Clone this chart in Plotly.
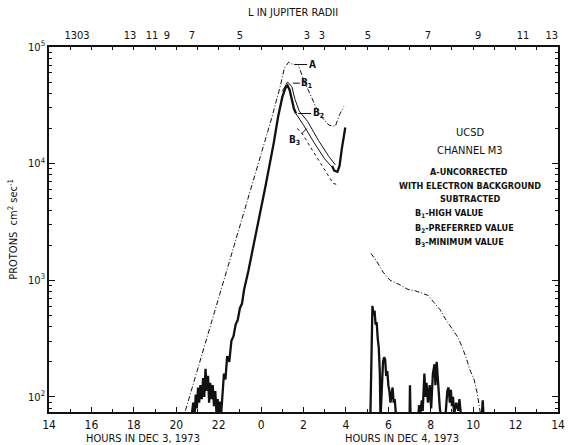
import plotly.graph_objects as go

# ---------------- data (hours since Dec 3 00:00, log10 flux) ----------------
# Curve A (uncorrected), dash-dot
a_left_h = [20.3, 20.9, 21.5, 22.1, 22.7, 23.3, 23.9, 24.5, 24.9, 25.1, 25.3, 25.5, 25.75, 26.0, 26.3, 26.6, 26.9, 27.2, 27.5, 27.7, 27.9]
a_left_log = [1.80, 2.17, 2.54, 2.91, 3.28, 3.65, 4.02, 4.39, 4.66, 4.82, 4.87, 4.85, 4.85, 4.72, 4.60, 4.48, 4.39, 4.33, 4.32, 4.42, 4.49]
a_right_h = [29.18, 29.46, 29.75, 30.08, 30.55, 30.93, 31.26, 31.59, 31.87, 32.15, 32.43, 32.72, 33.0, 33.28, 33.47, 33.66, 33.85, 34.04, 34.18, 34.27, 34.35]
a_right_log = [3.23, 3.16, 3.07, 3.0, 2.96, 2.92, 2.91, 2.89, 2.87, 2.81, 2.75, 2.66, 2.59, 2.51, 2.43, 2.34, 2.23, 2.15, 2.04, 1.93, 1.85]

# Thick main curve (left part incl. noise, up to the peak)
m_left_h = [20.7, 20.8, 20.85, 20.92, 20.97, 21.03, 21.08, 21.14, 21.2, 21.27, 21.32, 21.38, 21.44, 21.5, 21.55, 21.6, 21.66,
            21.72, 21.78, 21.84, 21.9, 21.95, 22.0, 22.06, 22.12, 22.18, 22.25, 22.32, 22.4, 22.5, 22.6, 22.7, 22.8, 22.9,
            23.0, 23.1, 23.2, 23.4, 23.6, 23.8, 24.0, 24.2, 24.4, 24.6, 24.8, 25.0, 25.15, 25.25, 25.35, 25.45, 25.55, 25.65]
m_left_log = [1.8, 1.95, 1.8, 2.02, 1.9, 2.08, 1.95, 2.1, 1.98, 2.16, 2.0, 2.24, 2.05, 2.18, 1.95, 2.12, 1.98,
              2.1, 1.92, 2.05, 1.85, 1.98, 1.8, 1.96, 1.86, 2.05, 2.2, 2.15, 2.35, 2.3, 2.48, 2.52, 2.62, 2.66,
              2.76, 2.8, 2.92, 3.08, 3.25, 3.45, 3.62, 3.8, 3.98, 4.18, 4.4, 4.57, 4.65, 4.67, 4.63, 4.55, 4.47, 4.43]
# Thick main curve: dip and recovery
m_dip_h = [27.35, 27.45, 27.6, 27.7, 27.8, 27.9, 27.97]
m_dip_log = [3.98, 3.94, 3.93, 3.98, 4.12, 4.25, 4.31]
# Thick main curve: right part (noise)
m_right_h = [29.15, 29.2, 29.25, 29.3, 29.35, 29.4, 29.45, 29.5, 29.55, 29.6, 29.63, 29.7, 29.75, 29.8, 29.85, 29.9, 29.95,
             30.0, 30.05, 30.1, 30.15, 30.2, 30.25, 30.3, 30.38, 31.0, 31.02, 31.05, 31.4, 31.45, 31.5, 31.58, 31.62,
             31.7, 31.75, 31.8, 31.87, 31.95, 32.02, 32.1, 32.18, 32.22, 32.28, 32.33, 32.38, 32.43, 32.5, 32.7, 32.78,
             32.84, 32.9, 32.95, 33.0, 33.05, 33.1, 33.2, 33.3, 33.35, 33.45, 33.55, 34.4, 34.45, 34.5]
m_right_log = [1.8, 2.55, 2.78, 2.7, 2.74, 2.62, 2.64, 2.5, 2.42, 2.2, 1.8, 2.1, 2.3, 2.34, 2.32, 2.18, 2.22,
               2.1, 2.05, 1.95, 2.02, 2.08, 1.95, 1.98, 1.8, 1.8, 2.1, 1.8, 1.8, 1.93, 1.85, 1.97, 1.88,
               2.2, 2.0, 2.12, 1.95, 2.1, 1.9, 2.2, 2.28, 2.1, 2.3, 2.15, 2.0, 1.9, 1.8, 1.85, 2.05,
               2.08, 1.95, 2.06, 1.92, 2.0, 1.85, 1.95, 1.88, 1.98, 1.8, 1.8, 1.8, 1.97, 1.8]
# B1 (high), B2 (preferred), B3 (minimum) in the decline after the peak
b1_h = [25.0, 25.25, 25.45, 25.6, 25.8, 26.2, 26.7, 27.2, 27.5]
b1_log = [4.62, 4.70, 4.66, 4.55, 4.45, 4.36, 4.20, 4.06, 3.99]
b2_h = [25.6, 26.0, 26.5, 27.0, 27.4]
b2_log = [4.44, 4.33, 4.18, 4.04, 3.96]
b3_h = [25.7, 25.9, 26.3, 26.8, 27.2, 27.4, 27.6]
b3_log = [4.30, 4.27, 4.15, 4.0, 3.88, 3.83, 3.82]

# axes
x_tick_vals = [14, 16, 18, 20, 22, 24, 26, 28, 30, 32, 34, 36, 38]
x_tick_text = ["14", "16", "18", "20", "22", "0", "2", "4", "6", "8", "10", "12", "14"]
x_minor_vals = [15, 17, 19, 21, 23, 25, 27, 29, 31, 33, 35, 37]
top_minor_vals = [15, 16, 17, 18, 19, 20, 21, 22, 23, 24, 25, 26, 27, 28, 29, 30, 31, 32, 33, 34, 35, 36, 37]
l_tick_vals = [15.32, 17.82, 18.86, 19.56, 20.74, 23.0, 26.16, 26.87, 29.04, 31.87, 34.23, 36.35, 37.71]
l_tick_text = ["1303", "13", "11", "9", "7", "5", "3", "3", "5", "7", "9", "11", "13"]
y_tick_vals = [100, 1000, 10000, 100000]
y_tick_text = ["10<sup>2</sup>", "10<sup>3</sup>", "10<sup>4</sup>", "10<sup>5</sup>"]
y_minor_vals = [m * d for d in (10, 100, 1000, 10000) for m in range(2, 10)]


def vals(logs):
    return [10 ** v for v in logs]


FONT = "Liberation Sans Narrow, DejaVu Sans Condensed, Arial Narrow, sans-serif"
BLACK = "#111111"

fig = go.Figure()
dashdot = "5px,2px,1px,2px"
fig.add_trace(go.Scatter(x=a_left_h, y=vals(a_left_log), mode="lines",
                         line=dict(color=BLACK, width=1, dash=dashdot)))
fig.add_trace(go.Scatter(x=a_right_h, y=vals(a_right_log), mode="lines",
                         line=dict(color=BLACK, width=1, dash=dashdot)))
fig.add_trace(go.Scatter(x=b1_h, y=vals(b1_log), mode="lines", line=dict(color=BLACK, width=1)))
fig.add_trace(go.Scatter(x=b2_h, y=vals(b2_log), mode="lines", line=dict(color=BLACK, width=1)))
fig.add_trace(go.Scatter(x=b3_h, y=vals(b3_log), mode="lines", line=dict(color=BLACK, width=1, dash="dot")))
for hx, lg in ((m_left_h, m_left_log), (m_dip_h, m_dip_log), (m_right_h, m_right_log)):
    fig.add_trace(go.Scatter(x=hx, y=vals(lg), mode="lines", line=dict(color=BLACK, width=2.3)))
# invisible trace to activate top axis
fig.add_trace(go.Scatter(x=[14, 38], y=[100, 100], xaxis="x2", mode="lines",
                         line=dict(width=0), hoverinfo="skip", showlegend=False, opacity=0))

fig.update_layout(
    width=577, height=445,
    margin=dict(l=49, r=19, t=47, b=33),
    paper_bgcolor="white", plot_bgcolor="white",
    showlegend=False,
    font=dict(family=FONT, color=BLACK, size=12),
    xaxis=dict(range=[14, 38], tickmode="array", tickvals=x_tick_vals, ticktext=x_tick_text,
               ticks="inside", ticklen=5, tickwidth=1.2, tickcolor=BLACK,
               minor=dict(tickmode="array", tickvals=x_minor_vals, ticks="inside", ticklen=3, tickcolor=BLACK),
               showline=True, linewidth=2, linecolor=BLACK, showgrid=False, zeroline=False,
               tickfont=dict(size=12), ticklabelstandoff=1),
    xaxis2=dict(range=[14, 38], overlaying="x", side="top", tickmode="array",
                tickvals=l_tick_vals, ticktext=l_tick_text, ticks="", ticklen=0,
                minor=dict(tickmode="array", tickvals=top_minor_vals, ticks="inside", ticklen=3, tickcolor=BLACK),
                tickcolor=BLACK, showline=True, linewidth=2, linecolor=BLACK,
                showgrid=False, zeroline=False, tickfont=dict(size=11), ticklabelstandoff=2),
    yaxis=dict(type="log", range=[1.87, 5.0], tickmode="array", tickvals=y_tick_vals, ticktext=y_tick_text,
               ticks="inside", ticklen=6, tickcolor=BLACK, mirror="ticks",
               minor=dict(tickmode="array", tickvals=y_minor_vals, ticks="inside", ticklen=3, tickcolor=BLACK),
               showline=True, linewidth=1.5, linecolor=BLACK, showgrid=False, zeroline=False,
               tickfont=dict(size=11),
               title=dict(text="PROTONS  cm<sup>2</sup> sec<sup>-1</sup>", font=dict(size=11), standoff=8)),
)

plot_h = 445 - 47 - 33
plot_w = 577 - 49 - 19


def px(xp, yp):
    return (xp - 49) / plot_w, (445 - 33 - yp) / plot_h


ann = []


def add_text(text, xc, yc, size, xanchor="center"):
    tx, ty = px(xc, yc)
    ann.append(dict(text=text, x=tx, y=ty, xref="paper", yref="paper", showarrow=False,
                    xanchor=xanchor, yanchor="middle", font=dict(size=size)))


add_text("L IN JUPITER RADII", 293, 12, 11)
add_text("HOURS IN DEC 3, 1973", 143, 438, 11)
add_text("HOURS IN DEC 4, 1973", 402, 438, 11)
add_text("UCSD", 470, 132, 11)
add_text("CHANNEL M3", 470, 150, 11)
add_text("<b>A-UNCORRECTED</b>", 469, 172, 9)
add_text("<b>WITH ELECTRON BACKGROUND</b>", 470, 186, 9)
add_text("<b>SUBTRACTED</b>", 470, 199, 9)
add_text("<b>B<sub>1</sub>-HIGH VALUE</b>", 413, 213, 9, "left")
add_text("<b>B<sub>2</sub>-PREFERRED VALUE</b>", 413, 228, 9, "left")
add_text("<b>B<sub>3</sub>-MINIMUM VALUE</b>", 413, 242, 9, "left")

# curve labels with leader lines
for text, hx, lg, axp, ayp in (("A", 25.75, 4.85, 14, 0), ("B<sub>1</sub>", 25.5, 4.69, 14, 0),
                               ("B<sub>2</sub>", 25.75, 4.43, 20, 0), ("B<sub>3</sub>", 26.15, 4.30, -12, 12)):
    ann.append(dict(text="<b>" + text + "</b>", x=hx, y=lg, xref="x", yref="y", showarrow=True,
                    arrowhead=0, arrowwidth=1, arrowcolor=BLACK, ax=axp, ay=ayp, standoff=0,
                    font=dict(size=10)))
fig.update_layout(annotations=ann)

fig.write_html("out.html")
